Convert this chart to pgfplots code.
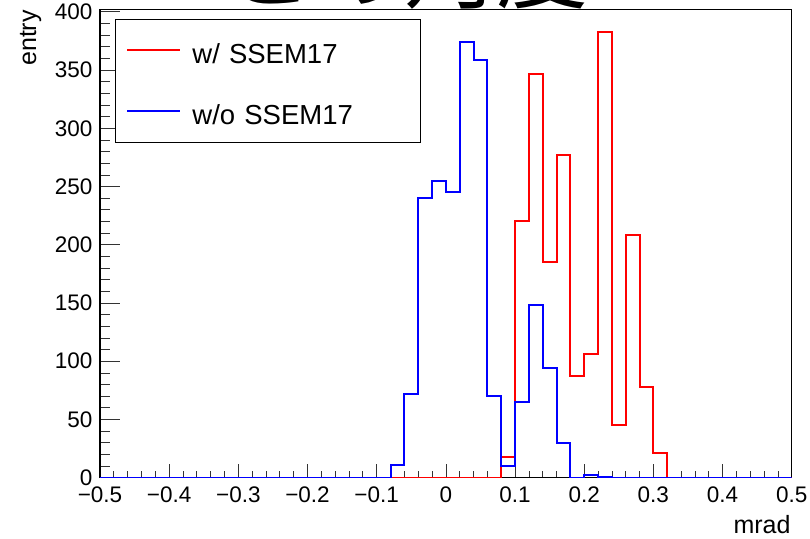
\documentclass[border=0pt]{standalone}
\usepackage{pgfplots}
\pgfplotsset{compat=1.18}
\usepackage{fontspec}
\setmainfont{Liberation Sans}
\newfontfamily\cjk{Noto Sans CJK JP}
\definecolor{rred}{RGB}{255,0,0}
\definecolor{bblue}{RGB}{0,0,255}

\begin{document}
\begin{tikzpicture}
\useasboundingbox (-100pt,-60.3pt) rectangle (710pt,477.7pt);
\begin{scope}
\clip (-100pt,0pt) rectangle (710pt,477.7pt);
\node[font=\cjk\fontsize{92}{92}\selectfont, anchor=base, inner sep=0pt] at (305pt,476pt) {との角度};
\end{scope}
\begin{axis}[
  scale only axis, width=691.7pt, height=468.4pt,
  xmin=-0.5, xmax=0.5, ymin=0, ymax=402.15,
  axis line style={line width=1.2pt, black},
  tick align=inside, xtick pos=left, ytick pos=left,
  xtick={-0.5,-0.4,-0.3,-0.2,-0.1,0,0.1,0.2,0.3,0.4,0.5},
  xticklabels={−0.5,−0.4,−0.3,−0.2,−0.1,0,0.1,0.2,0.3,0.4,0.5},
  ytick={0,50,100,150,200,250,300,350,400},
  yticklabels={0,50,100,150,200,250,300,350,400},
  minor x tick num=4, minor y tick num=4,
  xtick style={/pgfplots/major tick length=14pt, /pgfplots/minor tick length=7pt, line width=0.7pt, black!80},
  ytick style={/pgfplots/major tick length=20pt, /pgfplots/minor tick length=10pt, line width=0.7pt, black!80},
  tick label style={font=\fontsize{22.5}{24}\selectfont, inner sep=0pt},
  xticklabel style={anchor=base, yshift=-24.6pt},
  yticklabel style={anchor=east, xshift=-7.3pt},
  xlabel={mrad},
  xlabel style={at={(axis description cs:1,0)}, anchor=base east, xshift=-1pt, yshift=-55.6pt, inner sep=0pt, font=\fontsize{25}{30}\selectfont},
  ylabel={entry},
  ylabel style={at={(axis description cs:-0.0925,0.9985)}, anchor=base east, inner sep=0pt, font=\fontsize{25}{30}\selectfont},
  legend cell align=left,
  legend style={at={(axis description cs:0.02169,0.97993)}, anchor=north west, line width=0.8pt,
    inner xsep=11pt, inner ysep=10pt, row sep=19.6pt, column sep=11pt,
    nodes={font=\fontsize{27.5}{30}\selectfont, text height=34.3pt, text depth=7.4pt, inner sep=0pt, text width=217pt, anchor=west}},
]
\addplot[color=rred, const plot mark left, line width=2pt,
  legend image code/.code={\draw[color=rred, line width=2pt] (0pt,0pt) -- (53pt,0pt);}] coordinates {
(-0.5,0) (0.08,18) (0.10,220) (0.12,347) (0.14,185) (0.16,277) (0.18,87) (0.20,106)
(0.22,383) (0.24,45) (0.26,208) (0.28,78) (0.30,21) (0.32,0) (0.5,0)};
\addplot[color=bblue, const plot mark left, line width=2pt,
  legend image code/.code={\draw[color=bblue, line width=2pt] (0pt,0pt) -- (53pt,0pt);}] coordinates {
(-0.5,0) (-0.08,11) (-0.06,72) (-0.04,240) (-0.02,255) (0,245) (0.02,374) (0.04,359)
(0.06,70) (0.08,10) (0.10,65) (0.12,148) (0.14,94) (0.16,30) (0.18,0) (0.20,2) (0.22,1) (0.24,0) (0.5,0)};
\legend{w/ SSEM17, w/o SSEM17}
\end{axis}
\end{tikzpicture}
\end{document}
